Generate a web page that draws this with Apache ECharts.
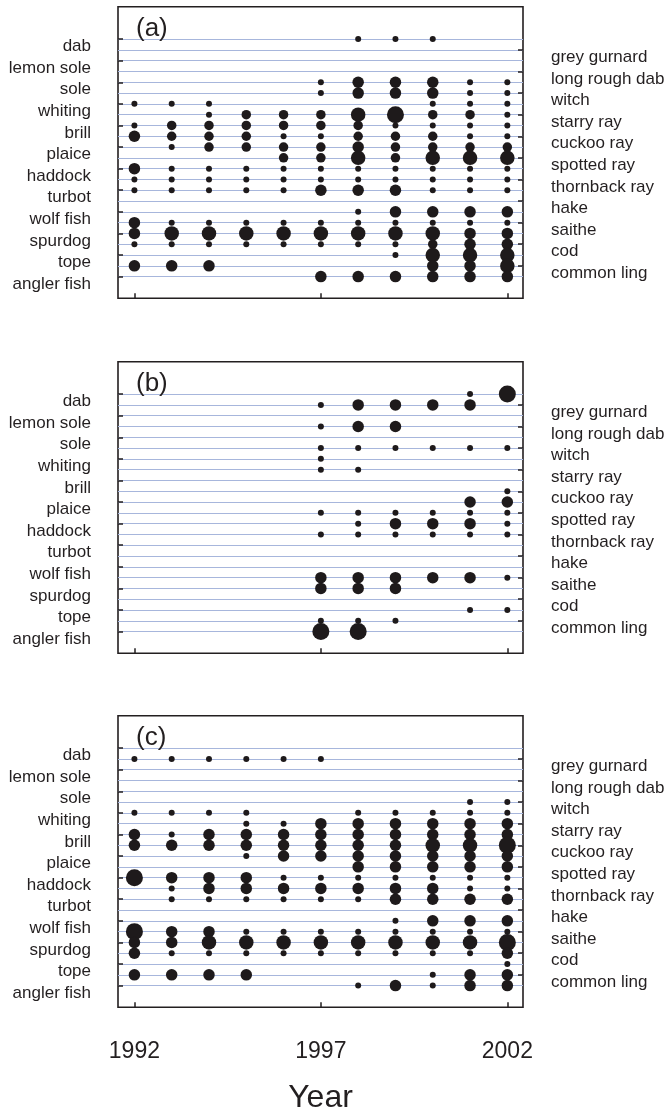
<!DOCTYPE html>
<html>
<head>
<meta charset="utf-8">
<script src="https://cdn.jsdelivr.net/npm/echarts@6/dist/echarts.min.js"></script>
<style>
html, body { margin: 0; padding: 0; background: #ffffff; }
#chart { width: 669px; height: 1112px; }
</style>
</head>
<body>
<div id="chart"></div>
<script>
// ---- data ----
const years = [1992, 1993, 1994, 1995, 1996, 1997, 1998, 1999, 2000, 2001, 2002];
const yearTicks = [1992, 1997, 2002];
const leftSpecies = ['dab', 'lemon sole', 'sole', 'whiting', 'brill', 'plaice', 'haddock', 'turbot', 'wolf fish', 'spurdog', 'tope', 'angler fish'];
const rightSpecies = ['grey gurnard', 'long rough dab', 'witch', 'starry ray', 'cuckoo ray', 'spotted ray', 'thornback ray', 'hake', 'saithe', 'cod', 'common ling'];
const panelLabels = ['(a)', '(b)', '(c)'];

// abundance class (0 = absent) per species row (interleaved left/right), per year
const panelA = [
  [0,0,0,0,0,0,1,1,1,0,0], // dab
  [0,0,0,0,0,0,0,0,0,0,0], // grey gurnard
  [0,0,0,0,0,0,0,0,0,0,0], // lemon sole
  [0,0,0,0,0,0,0,0,0,0,0], // long rough dab
  [0,0,0,0,0,1,3,3,3,1,1], // sole
  [0,0,0,0,0,1,3,3,3,1,1], // witch
  [1,1,1,0,0,0,0,0,1,1,1], // whiting
  [0,0,1,2,2,2,4,5,2,2,1], // starry ray
  [1,2,2,2,2,2,2,1,1,1,1], // brill
  [3,2,2,2,1,1,2,2,2,1,1], // cuckoo ray
  [0,1,2,2,2,2,3,2,2,2,2], // plaice
  [0,0,0,0,2,2,4,2,4,4,4], // spotted ray
  [3,1,1,1,1,1,1,1,1,1,1], // haddock
  [1,1,1,1,1,1,1,1,1,1,1], // thornback ray
  [1,1,1,1,1,3,3,3,1,1,1], // turbot
  [0,0,0,0,0,0,0,0,0,0,0], // hake
  [0,0,0,0,0,0,1,3,3,3,3], // wolf fish
  [3,1,1,1,1,1,1,1,1,1,1], // saithe
  [3,4,4,4,4,4,4,4,4,3,3], // spurdog
  [1,1,1,1,1,1,1,1,2,3,3], // cod
  [0,0,0,0,0,0,0,1,4,4,4], // tope
  [3,3,3,0,0,0,0,0,3,3,4], // common ling
  [0,0,0,0,0,3,3,3,3,3,3]  // angler fish
];
const panelB = [
  [0,0,0,0,0,0,0,0,0,1,5], // dab
  [0,0,0,0,0,1,3,3,3,3,0], // grey gurnard
  [0,0,0,0,0,0,0,0,0,0,0], // lemon sole
  [0,0,0,0,0,1,3,3,0,0,0], // long rough dab
  [0,0,0,0,0,0,0,0,0,0,0], // sole
  [0,0,0,0,0,1,1,1,1,1,1], // witch
  [0,0,0,0,0,1,0,0,0,0,0], // whiting
  [0,0,0,0,0,1,1,0,0,0,0], // starry ray
  [0,0,0,0,0,0,0,0,0,0,0], // brill
  [0,0,0,0,0,0,0,0,0,0,1], // cuckoo ray
  [0,0,0,0,0,0,0,0,0,3,3], // plaice
  [0,0,0,0,0,1,1,1,1,1,1], // spotted ray
  [0,0,0,0,0,0,1,3,3,3,1], // haddock
  [0,0,0,0,0,1,1,1,1,1,1], // thornback ray
  [0,0,0,0,0,0,0,0,0,0,0], // turbot
  [0,0,0,0,0,0,0,0,0,0,0], // hake
  [0,0,0,0,0,0,0,0,0,0,0], // wolf fish
  [0,0,0,0,0,3,3,3,3,3,1], // saithe
  [0,0,0,0,0,3,3,3,0,0,0], // spurdog
  [0,0,0,0,0,0,0,0,0,0,0], // cod
  [0,0,0,0,0,0,0,0,0,1,1], // tope
  [0,0,0,0,0,1,1,1,0,0,0], // common ling
  [0,0,0,0,0,5,5,0,0,0,0]  // angler fish
];
const panelC = [
  [0,0,0,0,0,0,0,0,0,0,0], // dab
  [1,1,1,1,1,1,0,0,0,0,0], // grey gurnard
  [0,0,0,0,0,0,0,0,0,0,0], // lemon sole
  [0,0,0,0,0,0,0,0,0,0,0], // long rough dab
  [0,0,0,0,0,0,0,0,0,0,0], // sole
  [0,0,0,0,0,0,0,0,0,1,1], // witch
  [1,1,1,1,0,0,1,1,1,1,1], // whiting
  [0,0,0,1,1,3,3,3,3,3,3], // starry ray
  [3,1,3,3,3,3,3,3,3,3,3], // brill
  [3,3,3,3,3,3,3,3,4,4,5], // cuckoo ray
  [0,0,0,1,3,3,3,3,3,3,3], // plaice
  [0,0,0,0,0,0,3,3,3,3,3], // spotted ray
  [5,3,3,3,1,1,1,1,1,1,1], // haddock
  [0,1,3,3,3,3,3,3,3,1,1], // thornback ray
  [0,1,1,1,1,1,1,3,3,3,3], // turbot
  [0,0,0,0,0,0,0,0,0,0,0], // hake
  [0,0,0,0,0,0,0,1,3,3,3], // wolf fish
  [5,3,3,1,1,1,1,1,1,1,1], // saithe
  [3,3,4,4,4,4,4,4,4,4,5], // spurdog
  [3,1,1,1,1,1,1,1,1,1,3], // cod
  [0,0,0,0,0,0,0,0,0,0,1], // tope
  [3,3,3,3,0,0,0,0,1,3,3], // common ling
  [0,0,0,0,0,0,1,3,1,3,3]  // angler fish
];
const panels = [panelA, panelB, panelC];

// ---- layout / style ----
const FONT = "'Liberation Sans', Arial, Helvetica, sans-serif";
const INK = '#231f20';
const LINE_BLUE = '#a7b6dc';
const sizeByClass = [0, 6, 9.5, 11.5, 14.5, 17];
const gridTops = [6.7, 361.7, 715.7];
const gridH = 291.5;

// interleaved rows: left species at even rows, right species at odd rows
const rows = [];
leftSpecies.forEach((s, i) => { rows.push(s); if (rightSpecies[i]) rows.push(rightSpecies[i]); });
// category axis: 3 padding slots above, 2 below the species rows
const PAD_TOP = 3, PAD_BOTTOM = 2;
const cats = [];
for (let i = 0; i < PAD_TOP; i++) cats.push('pad_t' + i);
rows.forEach(r => cats.push(r));
for (let i = 0; i < PAD_BOTTOM; i++) cats.push('pad_b' + i);
const isLeft = v => leftSpecies.indexOf(v) >= 0;
const isRight = v => rightSpecies.indexOf(v) >= 0;
const isRow = v => rows.indexOf(v) >= 0;

const grid = [], xAxis = [], yAxis = [], series = [], title = [];
panels.forEach((panel, p) => {
  grid.push({ left: 118, width: 405, top: gridTops[p], height: gridH, show: true,
    outerBoundsMode: 'none', containLabel: false,
    borderColor: INK, borderWidth: 1.6, backgroundColor: 'transparent' });
  const last = p === panels.length - 1;
  xAxis.push({
    type: 'value', gridIndex: p, min: 1991.56, max: 2002.42,
    axisLine: { show: false },
    splitLine: { show: false },
    axisTick: { show: true, inside: true, length: 5, customValues: yearTicks, lineStyle: { color: INK, width: 1.5 } },
    axisLabel: { show: last, customValues: yearTicks, formatter: v => String(v), margin: 33, fontSize: 23, color: INK, fontFamily: FONT },
    name: last ? 'Year' : '', nameLocation: 'middle', nameGap: 75,
    nameTextStyle: { fontSize: 32, color: INK, fontFamily: FONT }
  });
  yAxis.push({
    type: 'category', gridIndex: p, data: cats, inverse: true, boundaryGap: false,
    axisLine: { show: false },
    axisTick: { show: true, inside: true, length: 5, interval: (i, v) => isLeft(v), lineStyle: { color: INK, width: 1.5 } },
    splitLine: { show: true, interval: (i, v) => isRow(v), lineStyle: { color: LINE_BLUE, width: 1 } },
    axisLabel: { show: true, interval: (i, v) => isLeft(v), formatter: v => isLeft(v) ? v : '',
      margin: 27, fontSize: 17, color: INK, fontFamily: FONT, verticalAlign: 'top', lineHeight: 15 }
  });
  yAxis.push({
    type: 'category', gridIndex: p, data: cats, inverse: true, boundaryGap: false, position: 'right',
    axisLine: { show: false },
    axisTick: { show: true, inside: true, length: 5, interval: (i, v) => isRight(v), lineStyle: { color: INK, width: 1.5 } },
    splitLine: { show: false },
    axisLabel: { show: true, interval: (i, v) => isRight(v), formatter: v => isRight(v) ? v : '',
      margin: 28, fontSize: 17, color: INK, fontFamily: FONT, verticalAlign: 'top', lineHeight: 15 }
  });
  const data = [];
  panel.forEach((vals, r) => {
    vals.forEach((v, j) => { if (v > 0) data.push([years[j], rows[r], v]); });
  });
  series.push({
    type: 'scatter', xAxisIndex: p, yAxisIndex: 2 * p, data: data,
    symbol: 'circle', symbolSize: val => sizeByClass[val[2]],
    itemStyle: { color: '#1e1a1b', opacity: 1 }, z: 5
  });
  title.push({ text: panelLabels[p], left: 136, top: gridTops[p] + 9, padding: 0,
    textStyle: { fontSize: 26, fontWeight: 'normal', color: INK, fontFamily: FONT } });
});

const chart = echarts.init(document.getElementById('chart'), null, { renderer: 'canvas' });
chart.setOption({ animation: false, backgroundColor: '#ffffff', title, grid, xAxis, yAxis, series });
</script>
</body>
</html>
